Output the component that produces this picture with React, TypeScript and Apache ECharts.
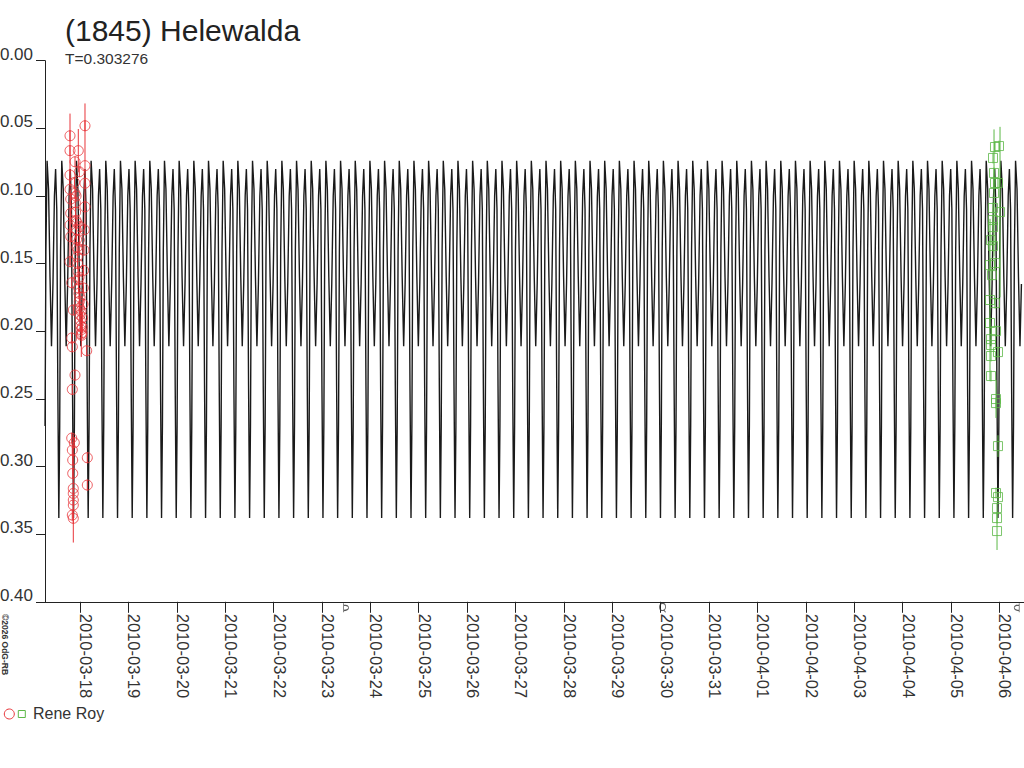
import React, { useEffect, useRef } from "react";
import * as echarts from "echarts";

// Time unit: days since 2010-03-17 00:00 UT
const PERIOD = 0.303276;
const EPOCH_MIN = 0.8657; // a deep minimum of the model curve
const CURVE_START = 0.2766;
const CURVE_END = 20.469;
const X_MIN = 0.2766;
const X_MAX = 20.5105;

// one period of the model light curve (phase, magnitude)
const modelPhase = [0, 0.06, 0.12, 0.2, 0.3, 0.4, 0.5, 0.6, 0.7, 0.78, 0.86, 0.93, 1.0];
const modelMag = [0.338, 0.27, 0.14, 0.074, 0.095, 0.16, 0.211, 0.165, 0.1, 0.08, 0.11, 0.24, 0.338];

const dayTicks = [1, 2, 3, 4, 5, 6, 7, 8, 9, 10, 11, 12, 13, 14, 15, 16, 17, 18, 19, 20];
const dayLabels = [
  "2010-03-18", "2010-03-19", "2010-03-20", "2010-03-21", "2010-03-22",
  "2010-03-23", "2010-03-24", "2010-03-25", "2010-03-26", "2010-03-27",
  "2010-03-28", "2010-03-29", "2010-03-30", "2010-03-31", "2010-04-01",
  "2010-04-02", "2010-04-03", "2010-04-04", "2010-04-05", "2010-04-06",
];

const redTime = [
  0.7933, 1.1033, 0.7933, 0.9649, 0.8967, 1.1033, 0.7933, 0.9855, 0.7933, 1.1033,
  0.8078, 1.1033, 0.8078, 0.7933, 1.0, 0.8078, 0.9855, 0.7933, 0.8285, 0.8615,
  0.8285, 0.8409, 1.1385, 0.8967, 0.8409, 0.8285, 0.8822, 0.8409, 0.8491, 1.1509,
  0.8491, 1.1509, 0.8615, 0.8615, 0.8615, 0.8615, 0.8409, 0.8615,
  0.8863, 0.8967, 0.9029, 0.9091, 0.9173, 0.9235, 0.9297, 0.938, 0.9442, 0.9504,
  0.9587, 0.9649, 0.9711, 0.9793, 0.9855, 0.9917, 1.0, 1.0062, 1.0124, 1.0207,
  1.0269, 1.0331, 1.0413, 1.0475, 1.0537, 1.062, 1.0682, 1.0744, 1.0827, 1.0889,
  0.9173, 0.938, 0.9587, 0.9793, 1.0, 1.0207,
];
const redMag = [
  0.0555, 0.0481, 0.0665, 0.0665, 0.0747, 0.0776, 0.0845, 0.0821, 0.0951, 0.0906,
  0.1023, 0.108, 0.1128, 0.1215, 0.1227, 0.1301, 0.1326, 0.1486, 0.1641, 0.1843,
  0.205, 0.2115, 0.2144, 0.2324, 0.243, 0.279, 0.2824, 0.2878, 0.2952, 0.2935,
  0.3051, 0.3137, 0.3162, 0.3199, 0.3248, 0.3285, 0.3359, 0.3383,
  0.09, 0.098, 0.105, 0.112, 0.118, 0.125, 0.132, 0.138, 0.145, 0.15,
  0.156, 0.162, 0.168, 0.172, 0.178, 0.183, 0.188, 0.192, 0.196, 0.199,
  0.202, 0.203, 0.201, 0.197, 0.19, 0.18, 0.168, 0.155, 0.14, 0.125,
  0.1, 0.12, 0.14, 0.16, 0.175, 0.185,
];
const redErr = [
  0.004, 0.004, 0.004, 0.016, 0.004, 0.046, 0.004, 0.004, 0.056, 0.004,
  0.004, 0.004, 0.004, 0.004, 0.004, 0.004, 0.004, 0.004, 0.004, 0.004,
  0.004, 0.004, 0.004, 0.004, 0.004, 0.004, 0.004, 0.004, 0.004, 0.004,
  0.004, 0.004, 0.04, 0.004, 0.004, 0.004, 0.004, 0.004,
  0.004, 0.004, 0.004, 0.004, 0.004, 0.004, 0.004, 0.004, 0.004, 0.004,
  0.004, 0.004, 0.004, 0.004, 0.004, 0.004, 0.004, 0.004, 0.004, 0.004,
  0.017, 0.004, 0.004, 0.004, 0.004, 0.004, 0.004, 0.004, 0.004, 0.004,
  0.004, 0.004, 0.004, 0.004, 0.004, 0.004,
];

const greenTime = [
  19.911, 19.994, 19.87, 19.891, 19.911, 19.973, 19.891, 19.87, 20.015, 19.87,
  19.87, 19.829, 19.87, 19.808, 19.911, 19.849, 19.808, 19.911, 19.808, 19.932,
  19.829, 19.829, 19.973, 19.829, 19.829, 19.932, 19.932, 19.973, 19.932, 19.973,
  19.953, 19.953, 19.953,
];
const greenMag = [
  0.0638, 0.0631, 0.0719, 0.083, 0.0904, 0.0904, 0.0978, 0.1089, 0.1119, 0.1178,
  0.123, 0.1326, 0.137, 0.1511, 0.1496, 0.1585, 0.1769, 0.1792, 0.1939, 0.1999,
  0.2058, 0.2102, 0.2154, 0.2183, 0.2331, 0.2501, 0.2531, 0.2849, 0.3196, 0.3226,
  0.3307, 0.3381, 0.3477,
];
const greenErr = [
  0.004, 0.004, 0.004, 0.004, 0.004, 0.004, 0.047, 0.004, 0.063, 0.004,
  0.004, 0.004, 0.004, 0.004, 0.004, 0.004, 0.06, 0.004, 0.004, 0.004,
  0.004, 0.004, 0.004, 0.004, 0.004, 0.014, 0.004, 0.008, 0.004, 0.004,
  0.004, 0.004, 0.014,
];

// moon phases (first quarter, full, last quarter)
const moonTime = [6.5, 13.04, 20.36];
const moonKind = ["first", "full", "last"];

const TITLE = "(1845) Helewalda";
const SUBTITLE = "T=0.303276";
const OBSERVER = "Rene Roy";
const CREDIT = "\u00a92026 OdG-RB";

const RED = "#e8353a";
const GREEN = "#5cb847";
const INK = "#222";
const TEXT = "#333";
const FONT = "'Liberation Sans', Arial, Helvetica, sans-serif";

function buildCurve(): number[][] {
  const pts: number[][] = [];
  const k0 = Math.floor((CURVE_START - EPOCH_MIN) / PERIOD) - 1;
  const k1 = Math.ceil((CURVE_END - EPOCH_MIN) / PERIOD) + 1;
  for (let k = k0; k <= k1; k++) {
    for (let j = 0; j < modelPhase.length - 1; j++) {
      const t = EPOCH_MIN + (k + modelPhase[j]) * PERIOD;
      if (t >= CURVE_START && t <= CURVE_END) pts.push([t, modelMag[j]]);
    }
  }
  return pts;
}

function errBars(color: string) {
  return (params: any, api: any) => {
    const t = api.value(0);
    const v = api.value(1);
    const e = api.value(2);
    const p1 = api.coord([t, v - e]);
    const p2 = api.coord([t, v + e]);
    return {
      type: "line",
      shape: { x1: p1[0], y1: p1[1], x2: p2[0], y2: p2[1] },
      style: { stroke: color, lineWidth: 1 },
    };
  };
}

const moonSymbols: Record<string, string> = {
  first: "path://M0,0 L0,10 M0,2 C5,2 5,8 0,8",
  full: "path://M3,0 C7,0 7,8 3,8 C-1,8 -1,0 3,0 M4,7 L6,10",
  last: "path://M5,0 L5,10 M5,2 C0,2 0,8 5,8",
};

export default function App() {
  const ref = useRef<HTMLDivElement>(null);

  useEffect(() => {
    document.body.style.margin = "0";
    if (!ref.current) return;
    const chart = echarts.init(ref.current, undefined, { renderer: "svg" });

    const option: any = {
      animation: false,
      backgroundColor: "#fff",
      textStyle: { fontFamily: FONT },
      grid: { left: 45, right: 0, top: 60.7, bottom: 166.2, outerBoundsMode: "none" },
      xAxis: {
        type: "value",
        min: X_MIN,
        max: X_MAX,
        axisLine: { onZero: false, lineStyle: { color: INK, width: 1 } },
        axisTick: { customValues: dayTicks, length: 11, lineStyle: { color: INK } },
        axisLabel: {
          customValues: dayTicks,
          formatter: (v: number) => {
            const i = dayTicks.indexOf(Math.round(v));
            return i >= 0 ? dayLabels[i] : "";
          },
          rotate: -90,
          margin: 12,
          fontSize: 16.5,
          color: TEXT,
          fontFamily: FONT,
          verticalAlign: "bottom",
          lineHeight: 12,
        },
        splitLine: { show: false },
      },
      yAxis: {
        type: "value",
        inverse: true,
        min: 0,
        max: 0.4,
        interval: 0.05,
        axisLine: { show: true, onZero: false, lineStyle: { color: INK, width: 1 } },
        axisTick: { show: true, length: 9, lineStyle: { color: INK } },
        axisLabel: {
          formatter: (v: number) => v.toFixed(2),
          margin: 12,
          fontSize: 17,
          color: TEXT,
          fontFamily: FONT,
          verticalAlign: "bottom",
          lineHeight: 13,
        },
        splitLine: { show: false },
      },
      series: [
        {
          name: "model",
          type: "line",
          data: buildCurve(),
          showSymbol: false,
          symbol: "none",
          lineStyle: { color: "#1a1a1a", width: 1.4 },
          z: 2,
          silent: true,
        },
        {
          name: "red-err",
          type: "custom",
          renderItem: errBars(RED),
          data: redTime.map((t, i) => [t, redMag[i], redErr[i]]),
          encode: { x: 0, y: 1 },
          z: 3,
          silent: true,
        },
        {
          name: "green-err",
          type: "custom",
          renderItem: errBars(GREEN),
          data: greenTime.map((t, i) => [t, greenMag[i], greenErr[i]]),
          encode: { x: 0, y: 1 },
          z: 3,
          silent: true,
        },
        {
          name: OBSERVER,
          type: "scatter",
          data: redTime.map((t, i) => [t, redMag[i]]),
          symbol: "circle",
          symbolSize: 10,
          itemStyle: { color: "rgba(0,0,0,0)", borderColor: RED, borderWidth: 1 },
          z: 4,
          silent: true,
        },
        {
          name: OBSERVER + " 2",
          type: "scatter",
          data: greenTime.map((t, i) => [t, greenMag[i]]),
          symbol: "rect",
          symbolSize: 9,
          itemStyle: { color: "rgba(0,0,0,0)", borderColor: GREEN, borderWidth: 1 },
          z: 4,
          silent: true,
        },
        {
          name: "moon",
          type: "scatter",
          clip: false,
          data: moonTime.map((t, i) => ({
            value: [t, 0.4],
            symbol: moonSymbols[moonKind[i]],
            symbolSize: moonKind[i] === "full" ? [6, 9] : [5, 9],
          })),
          symbolOffset: [0, 6],
          itemStyle: { color: "rgba(0,0,0,0)", borderColor: "#333", borderWidth: 1 },
          z: 5,
          silent: true,
        },
      ],
      graphic: [
        {
          type: "text",
          x: 65,
          y: 15,
          style: { text: TITLE, fontSize: 30, fontFamily: FONT, fill: INK, verticalAlign: "top" },
        },
        {
          type: "text",
          x: 65,
          y: 50.7,
          style: { text: SUBTITLE, fontSize: 15.5, fontFamily: FONT, fill: TEXT, verticalAlign: "top" },
        },
        {
          type: "text",
          x: 5,
          y: 614,
          rotation: -Math.PI / 2,
          style: {
            text: CREDIT,
            fontSize: 8.5,
            fontWeight: "bold",
            fontFamily: FONT,
            fill: TEXT,
            verticalAlign: "middle",
            align: "left",
          },
        },
        {
          type: "circle",
          shape: { cx: 9.3, cy: 714, r: 5 },
          style: { fill: "none", stroke: RED, lineWidth: 1 },
        },
        {
          type: "rect",
          shape: { x: 18.3, y: 710.5, width: 7, height: 7 },
          style: { fill: "none", stroke: GREEN, lineWidth: 1 },
        },
        {
          type: "text",
          x: 33,
          y: 705.3,
          style: { text: OBSERVER, fontSize: 16, fontFamily: FONT, fill: TEXT, verticalAlign: "top" },
        },
      ],
    };

    chart.setOption(option);
    return () => chart.dispose();
  }, []);

  return <div ref={ref} style={{ width: 1024, height: 768 }} />;
}
